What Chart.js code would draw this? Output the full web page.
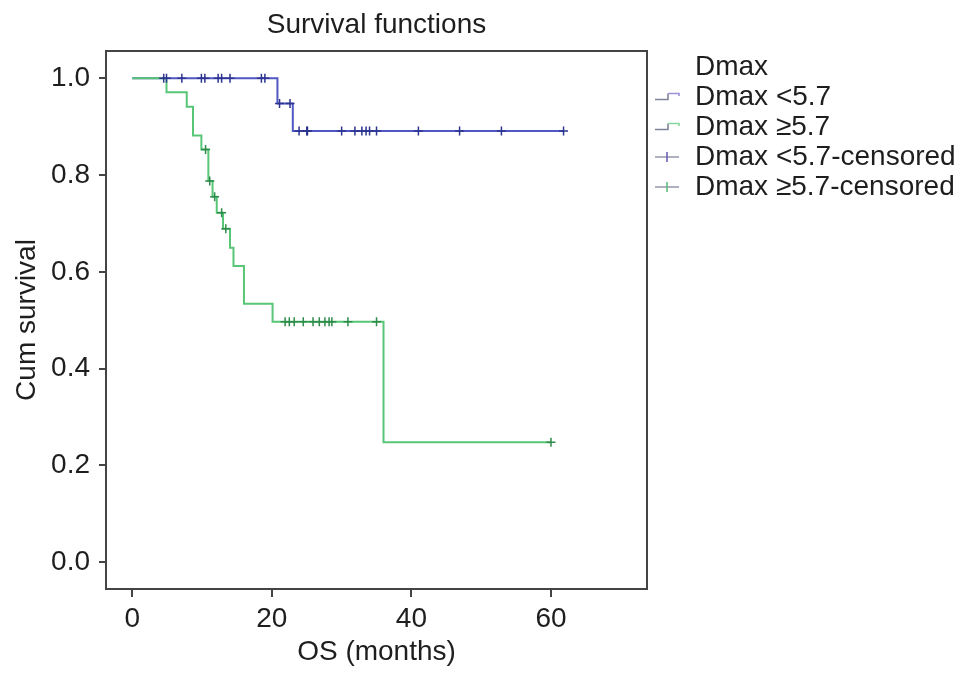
<!DOCTYPE html>
<html>
<head>
<meta charset="utf-8">
<script src="https://cdn.jsdelivr.net/npm/chart.js@4.4.1/dist/chart.umd.min.js"></script>
<style>
  html, body { margin: 0; padding: 0; background: #fff; }
  canvas { display: block; }
</style>
</head>
<body>
<canvas id="km" width="969" height="680"></canvas>
<script>
// Kaplan-Meier curves
const chartTitle = 'Survival functions';
const legendTitle = 'Dmax';
const groupNames = ['Dmax <5.7', 'Dmax \u22655.7'];

// step points: event times (months) and survival after the event
const lowTimes = [0, 20.8, 23.0, 61.8];
const lowSurv = [1.0, 0.948, 0.891, 0.891];
const lowCensored = [4.5, 4.9, 7.1, 9.9, 10.4, 12.3, 12.8, 14.0, 18.5, 19.0, 21.1, 22.6,
  23.9, 25.0, 25.1, 30.0, 31.9, 32.9, 33.5, 34.0, 35.0, 41.0, 46.9, 52.9, 61.8];

const highTimes = [0, 4.9, 7.8, 8.7, 9.9, 10.9, 11.5, 12.1, 13.0, 14.0, 14.5, 16.0, 20.1, 36.0, 60.0];
const highSurv = [1.0, 0.971, 0.941, 0.882, 0.853, 0.788, 0.755, 0.722, 0.689, 0.650, 0.612, 0.534, 0.497, 0.248, 0.248];
const highCensored = [10.5, 11.1, 11.8, 12.8, 13.4, 21.9, 22.5, 23.2, 24.5, 25.9, 26.8, 27.6,
  28.2, 28.6, 30.9, 35.0, 60.0];

const xTicks = [0, 20, 40, 60];
const yTicks = [0, 0.2, 0.4, 0.6, 0.8, 1.0];

const FONT = "'Liberation Sans', Arial, Helvetica, sans-serif";
const FS = 28;
const TEXT = '#1e1e1e';
const AXIS = '#444';
const blueLine = '#5058c4', blueMark = '#2c3590';
const greenLine = '#58c676', greenMark = '#2e8b4a';

function steps(times, surv) {
  return times.map((t, i) => ({x: t, y: surv[i]}));
}
// survival level at a censoring time (last step at or before it)
function survAt(times, surv, t) {
  let s = surv[0];
  for (let i = 0; i < times.length; i++) if (times[i] <= t) s = surv[i];
  return s;
}
function marks(cens, times, surv) {
  return cens.map(t => ({x: t, y: survAt(times, surv, t)}));
}

// little legend icons
function icon(draw) {
  const c = document.createElement('canvas');
  c.width = 32; c.height = 20;
  const g = c.getContext('2d');
  g.lineWidth = 1.6;
  draw(g);
  return c;
}
function stepIcon(top) {
  return icon(g => {
    g.strokeStyle = '#80849a';
    g.beginPath(); g.moveTo(6, 12.5); g.lineTo(19, 12.5); g.lineTo(19, 6.5); g.stroke();
    g.strokeStyle = top;
    g.beginPath(); g.moveTo(19, 6.5); g.lineTo(30, 6.5); g.lineTo(30, 9); g.stroke();
  });
}
function plusIcon(col) {
  return icon(g => {
    g.strokeStyle = '#9a9cb0';
    g.beginPath(); g.moveTo(6, 10); g.lineTo(30, 10); g.stroke();
    g.strokeStyle = col;
    g.beginPath(); g.moveTo(18, 5); g.lineTo(18, 15); g.stroke();
  });
}
const blankIcon = icon(() => {});

const legendItems = [
  {text: legendTitle, icon: blankIcon},
  {text: groupNames[0], icon: stepIcon('#9c90d8')},
  {text: groupNames[1], icon: stepIcon('#86d89a')},
  {text: groupNames[0] + '-censored', icon: plusIcon('#6a63b8')},
  {text: groupNames[1] + '-censored', icon: plusIcon('#5fbf80')},
];

// box round the plot area
const frame = {
  id: 'frame',
  afterInit(chart) {
    // legend column width fixed so the plot keeps its size
    const fit = chart.legend.fit.bind(chart.legend);
    chart.legend.fit = function () { fit(); this.width = 322; };
  },
  afterDatasetsDraw(chart) {
    const a = chart.chartArea, ctx = chart.ctx;
    ctx.save();
    ctx.strokeStyle = AXIS;
    ctx.lineWidth = 2;
    ctx.strokeRect(a.left, a.top, a.right - a.left, a.bottom - a.top);
    ctx.restore();
  }
};

new Chart(document.getElementById('km'), {
  type: 'line',
  data: {
    datasets: [
      {label: groupNames[0] + '-censored', data: marks(lowCensored, lowTimes, lowSurv),
        showLine: false, pointStyle: 'cross', pointRadius: 4.5, pointBorderWidth: 1.5,
        borderColor: blueMark, order: 1},
      {label: groupNames[1] + '-censored', data: marks(highCensored, highTimes, highSurv),
        showLine: false, pointStyle: 'cross', pointRadius: 4.5, pointBorderWidth: 1.5,
        borderColor: greenMark, order: 0},
      {label: groupNames[1], data: steps(highTimes, highSurv), stepped: true,
        borderColor: greenLine, borderWidth: 2, pointRadius: 0, fill: false, order: 2},
      {label: groupNames[0], data: steps(lowTimes, lowSurv), stepped: true,
        borderColor: blueLine, borderWidth: 2, pointRadius: 0, fill: false, order: 3},
    ]
  },
  options: {
    responsive: false,
    animation: false,
    layout: {padding: 0},
    plugins: {
      title: {
        display: true, text: chartTitle, color: TEXT, fullSize: false,
        font: {family: FONT, size: FS, weight: 'normal'},
        padding: {top: 8, bottom: 9.4}
      },
      legend: {
        position: 'right', align: 'start', fullSize: false, onClick: null,
        labels: {
          usePointStyle: true, pointStyleWidth: 32, padding: 2, color: TEXT,
          font: {family: FONT, size: FS},
          generateLabels: () => legendItems.map(it => ({
            text: it.text, pointStyle: it.icon, fillStyle: 'rgba(0,0,0,0)',
            strokeStyle: 'rgba(0,0,0,0)', lineWidth: 0, hidden: false, fontColor: TEXT
          }))
        }
      },
      tooltip: {enabled: false}
    },
    scales: {
      x: {
        type: 'linear', min: -3.77, max: 73.76,
        afterBuildTicks: s => { s.ticks = xTicks.map(v => ({value: v})); },
        afterFit: s => { s.height = 91; },
        border: {display: false},
        grid: {drawOnChartArea: false, drawTicks: true, tickLength: 8, color: AXIS, lineWidth: 2},
        ticks: {color: TEXT, padding: 5, maxRotation: 0, font: {family: FONT, size: FS}},
        title: {display: true, text: 'OS (months)', color: TEXT, padding: 11,
          font: {family: FONT, size: FS}}
      },
      y: {
        type: 'linear', min: -0.0552, max: 1.0564,
        afterBuildTicks: s => { s.ticks = yTicks.map(v => ({value: v})); },
        afterFit: s => { s.width = 106; },
        border: {display: false},
        grid: {drawOnChartArea: false, drawTicks: true, tickLength: 7, color: AXIS, lineWidth: 2},
        ticks: {color: TEXT, padding: 9, font: {family: FONT, size: FS},
          callback: v => Number(v).toFixed(1)},
        title: {display: true, text: 'Cum survival', color: TEXT, padding: 10,
          font: {family: FONT, size: FS}}
      }
    }
  },
  plugins: [frame]
});
</script>
</body>
</html>
